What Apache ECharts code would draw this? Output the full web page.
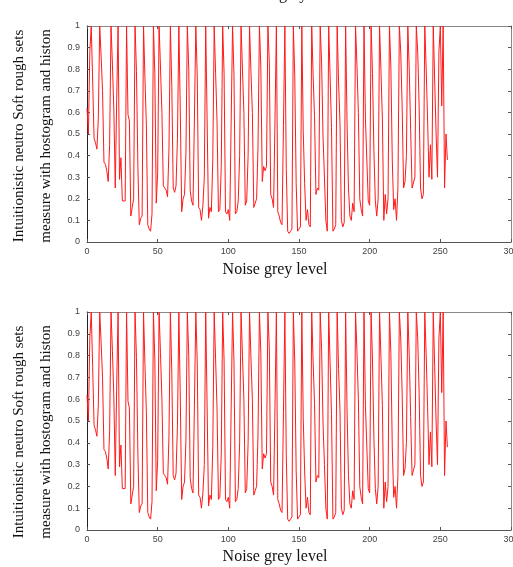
<!DOCTYPE html>
<html>
<head>
<meta charset="utf-8">
<script src="https://cdn.jsdelivr.net/npm/echarts@6/dist/echarts.min.js"></script>
<style>
html,body{margin:0;padding:0;background:#fff;}
#chart{width:513px;height:567px;}
</style>
</head>
<body>
<div id="chart"></div>
<script>
// Measure values per noise grey level (0..255)
const measureValues = [
0.62,0.50,0.88,1.00,0.75,0.48,0.46,0.43,0.57,1.00,
0.86,0.70,0.37,0.36,0.33,0.28,0.45,1.00,0.82,0.61,
0.25,0.66,1.00,0.29,0.39,0.19,0.19,0.19,1.00,0.59,
0.56,0.12,0.16,0.20,1.00,0.79,0.35,0.08,0.11,0.12,
1.00,0.76,0.54,0.08,0.06,0.05,0.13,1.00,0.78,0.18,
0.32,1.00,0.81,0.60,0.26,0.25,0.24,0.21,0.43,1.00,
0.72,0.25,0.23,0.26,0.48,1.00,0.61,0.14,0.20,0.22,
0.41,1.00,0.80,0.24,0.19,0.17,0.57,1.00,0.77,0.16,
0.15,0.10,0.17,0.30,1.00,0.56,0.11,0.16,0.14,0.38,
1.00,0.78,0.56,0.14,0.15,0.35,1.00,0.78,0.14,0.13,
0.15,0.10,0.56,1.00,0.77,0.13,0.14,0.19,0.40,1.00,
0.80,0.60,0.17,0.19,0.40,1.00,0.79,0.60,0.16,0.18,
0.20,0.44,1.00,0.81,0.28,0.35,0.33,0.35,1.00,0.83,
0.22,0.20,0.16,0.56,1.00,0.14,0.12,0.09,0.08,0.54,
1.00,0.34,0.05,0.04,0.05,0.06,1.00,0.77,0.27,0.05,
0.06,0.07,1.00,0.51,0.27,0.10,0.15,0.08,0.07,1.00,
0.77,0.58,0.22,0.25,0.24,1.00,0.83,0.49,0.30,0.10,
0.05,1.00,0.77,0.53,0.05,0.06,0.08,1.00,0.74,0.55,
0.10,0.07,0.09,1.00,0.55,0.25,0.12,0.10,0.18,0.14,
1.00,0.82,0.60,0.20,0.15,0.12,1.00,0.57,0.38,0.19,
0.17,1.00,0.78,0.42,0.19,0.12,0.20,1.00,0.79,0.57,
0.10,0.22,0.13,0.20,1.00,0.81,0.38,0.15,0.20,0.10,
0.25,1.00,0.88,0.62,0.25,0.28,0.40,1.00,0.80,0.52,
0.25,0.25,0.30,1.00,0.88,0.63,0.25,0.20,0.22,1.00,
0.80,0.56,0.30,0.45,0.29,1.00,0.75,0.50,0.30,0.88,
1.00,0.63,1.00,0.25,0.50,0.38
];
const xTicks = [0, 50, 100, 150, 200, 250, 300];
const yTicks = [0, 0.1, 0.2, 0.3, 0.4, 0.5, 0.6, 0.7, 0.8, 0.9, 1];

const seriesData = measureValues.map((v, i) => [i, v]);

const chart = echarts.init(document.getElementById('chart'), null, {renderer: 'canvas'});

const grids = [
  {left: 87, right: 2, top: 26, height: 216, containLabel: false, outerBoundsMode: 'none'},
  {left: 87, right: 2, top: 312, height: 218, containLabel: false, outerBoundsMode: 'none'}
];
const axisCol = '#555';
const labelStyle = {color: '#444', fontSize: 9, fontFamily: 'Liberation Sans, Arial, sans-serif'};

const xAxes = [], yAxes = [], series = [];
grids.forEach((g, gi) => {
  xAxes.push({
    type: 'value', gridIndex: gi, min: 0, max: 300, interval: 50, position: 'bottom',
    axisLine: {show: true, onZero: false, lineStyle: {color: axisCol, width: 1}},
    axisTick: {show: true, inside: true, length: 3, lineStyle: {color: axisCol}},
    axisLabel: Object.assign({margin: 5, showMaxLabel: true, hideOverlap: false}, labelStyle),
    splitLine: {show: false}
  });
  xAxes.push({
    type: 'value', gridIndex: gi, min: 0, max: 300, interval: 50, position: 'top',
    axisLine: {show: true, onZero: false, lineStyle: {color: '#888', width: 1}},
    axisTick: {show: true, inside: true, length: 3, lineStyle: {color: axisCol}},
    axisLabel: {show: false}, splitLine: {show: false}
  });
  yAxes.push({
    type: 'value', gridIndex: gi, min: 0, max: 1, interval: 0.1, position: 'left',
    axisLine: {show: true, onZero: false, lineStyle: {color: '#222', width: 1}},
    axisTick: {show: true, inside: true, length: 3, lineStyle: {color: axisCol}},
    axisLabel: Object.assign({margin: 7, formatter: v => String(Math.round(v * 10) / 10)}, labelStyle),
    splitLine: {show: false}
  });
  yAxes.push({
    type: 'value', gridIndex: gi, min: 0, max: 1, interval: 0.1, position: 'right',
    axisLine: {show: true, onZero: false, lineStyle: {color: '#888', width: 1}},
    axisTick: {show: true, inside: true, length: 3, lineStyle: {color: axisCol}},
    axisLabel: {show: false}, splitLine: {show: false}
  });
  series.push({
    type: 'line', xAxisIndex: gi * 2, yAxisIndex: gi * 2,
    data: seriesData, showSymbol: false, symbol: 'none',
    lineStyle: {color: '#ff1a1a', width: 1}, animation: false
  });
});

const serif = 'Liberation Serif, Times New Roman, serif';
const yLabel1 = 'Intuitionistic neutro Soft rough sets';
const yLabel2 = 'measure with hostogram and histon';
const xLabel = 'Noise grey level';

function vText(txt, x, y) {
  return {type: 'text', x: x, y: y, rotation: Math.PI / 2,
    style: {text: txt, font: '15px ' + serif, fill: '#111', align: 'center', verticalAlign: 'middle'}};
}
function hText(txt, x, y) {
  return {type: 'text', x: x, y: y,
    style: {text: txt, font: '16px ' + serif, fill: '#111', align: 'center', verticalAlign: 'middle'}};
}

chart.setOption({
  backgroundColor: '#fff',
  animation: false,
  grid: grids,
  xAxis: xAxes,
  yAxis: yAxes,
  series: series,
  graphic: [
    hText(xLabel, 290, -5),
    vText(yLabel1, 19, 136),
    vText(yLabel2, 46, 136),
    hText(xLabel, 275, 270),
    vText(yLabel1, 19, 432),
    vText(yLabel2, 46, 432),
    hText(xLabel, 275, 557)
  ]
});
</script>
</body>
</html>
